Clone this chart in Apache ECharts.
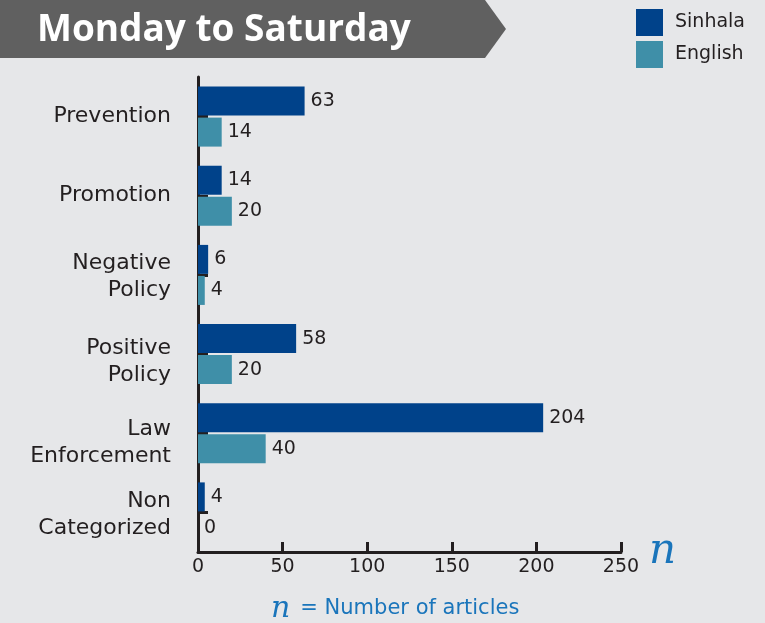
<!DOCTYPE html>
<html><head><meta charset="utf-8">
<script src="https://cdn.jsdelivr.net/npm/echarts@6/dist/echarts.min.js"></script>
<style>html,body{margin:0;padding:0;background:#e6e7e9;}#c{width:765px;height:623px;}</style>
</head><body><div id="c"></div>
<script>
const categories = ['Prevention', 'Promotion', 'Negative\nPolicy', 'Positive\nPolicy', 'Law\nEnforcement', 'Non\nCategorized'];
const sinhala = [63, 14, 6, 58, 204, 4];
const english = [14, 20, 4, 20, 40, 0];
const xTicks = [0, 50, 100, 150, 200, 250];
const seriesNames = ['Sinhala', 'English'];
const title = 'Monday to Saturday';

const labelShift = [0, 0, 2, 8, 10, 2];

const chart = echarts.init(document.getElementById('c'));
const dark = '#231f20';
const blue = '#1a75bb';
const font = 'DejaVu Sans';
const labelStyle = {show: true, position: 'right', distance: 6, color: dark, fontSize: 19, fontFamily: font};
const rich = {};
labelShift.forEach(s => { if (s > 0) rich['g' + s] = {lineHeight: 2 * s, fontSize: 1}; });
chart.setOption({
  backgroundColor: '#e6e7e9',
  animation: false,
  grid: {left: 198, right: 144, top: 77, bottom: 71, containLabel: false},
  legend: {
    orient: 'vertical', left: 631, top: 4, itemWidth: 27, itemHeight: 27, itemGap: 5,
    icon: 'rect', data: seriesNames,
    textStyle: {fontSize: 19, color: dark, fontFamily: font, padding: [0, 0, 0, 7]}
  },
  xAxis: {
    type: 'value', min: xTicks[0], max: xTicks[xTicks.length - 1], interval: 50,
    axisLine: {show: true, lineStyle: {color: dark, width: 3}},
    axisTick: {show: true, inside: true, length: 10, lineStyle: {color: dark, width: 3}},
    splitLine: {show: false},
    axisLabel: {fontSize: 19, color: dark, fontFamily: font, margin: 6},
    name: 'n', nameLocation: 'end', nameGap: 28,
    nameTextStyle: {fontFamily: 'DejaVu Serif', fontStyle: 'italic', fontSize: 42, color: blue, verticalAlign: 'middle', padding: [0, 0, 0, 0]}
  },
  yAxis: {
    type: 'category', inverse: true, data: categories,
    axisLine: {show: true, lineStyle: {color: dark, width: 3}},
    axisTick: {show: true, inside: true, length: 10, alignWithLabel: true, lineStyle: {color: dark, width: 3}},
    axisLabel: {
      fontSize: 22, color: dark, fontFamily: font, margin: 27, lineHeight: 27, align: 'right',
      formatter: (v, i) => labelShift[i] > 0 ? '{g' + labelShift[i] + '| }\n' + v : v,
      rich: rich
    }
  },
  series: [
    {name: seriesNames[0], type: 'bar', data: sinhala, barWidth: 29, barGap: '7%', itemStyle: {color: '#00428a'}, label: labelStyle},
    {name: seriesNames[1], type: 'bar', data: english, barWidth: 29, itemStyle: {color: '#3f8fa8'}, label: labelStyle}
  ],
  graphic: [
    {type: 'polygon', z: 0, shape: {points: [[0, 0], [485, 0], [506, 29], [485, 58], [0, 58]]}, style: {fill: '#606060'}},
    {type: 'text', left: 37, top: 12, style: {text: title, fill: '#ffffff', font: 'bold 37px "Open Sans"'}},
    {type: 'text', left: 271, top: 594, style: {
      text: '{n|n}{t|= Number of articles}',
      rich: {
        n: {fontFamily: 'DejaVu Serif', fontStyle: 'italic', fontSize: 30, fill: blue, padding: [0, 10, 0, 0]},
        t: {fontFamily: font, fontSize: 21, fill: blue}
      }
    }}
  ]
});
</script></body></html>
